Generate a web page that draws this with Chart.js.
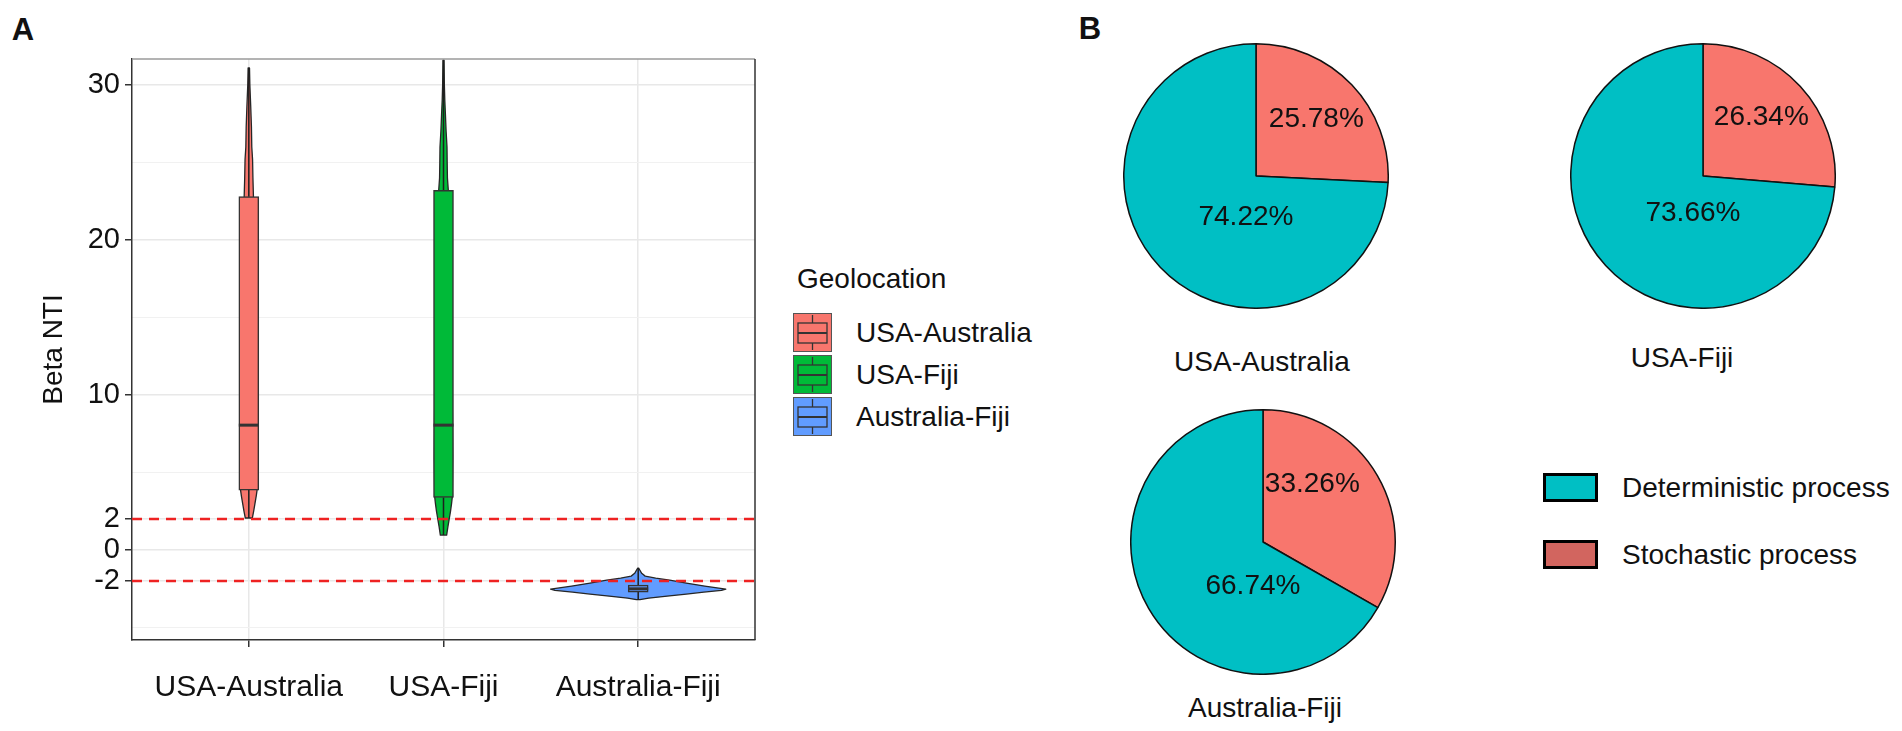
<!DOCTYPE html>
<html>
<head>
<meta charset="utf-8">
<script src="https://cdn.jsdelivr.net/npm/chart.js@4.4.1/dist/chart.umd.min.js"></script>
<style>
  html, body { margin:0; padding:0; background:#fff; width:1902px; height:731px; overflow:hidden;
    font-family:"Liberation Sans", Arial, sans-serif; color:#111; }
  .abs { position:absolute; }
  .tag { font-weight:bold; font-size:31px; line-height:1; }
  .txt { font-size:28px; line-height:1; white-space:nowrap; }
  .ctr { transform:translate(-50%,-50%); }
  .mid { transform:translateY(-50%); }
  .keyB { position:absolute; width:49px; height:23px; border:3px solid #000; }
</style>
</head>
<body>

<!-- DATA -->
<script>
// Panel A: Beta NTI by geolocation pair
const categories   = ['USA-Australia', 'USA-Fiji', 'Australia-Fiji'];
const boxLower     = [3.87, 3.40, -2.71];   // first quartile
const boxUpper     = [22.8, 23.2, -2.26];   // third quartile
const medians      = [8.06, 8.06, -2.50];
const whiskerLow   = [2.07, 0.97, -3.20];
const whiskerHigh  = [31.1, 31.6, -1.16];

// violin outlines: value grid and relative density (1 = widest violin)
const violinValuesAU  = [2.07, 2.5, 3.0, 3.5, 3.9, 6, 10, 15, 20, 22.8, 24, 25.2, 26, 27.3, 28.6, 30, 31.1];
const violinDensityAU = [0.04, 0.055, 0.07, 0.085, 0.095, 0.1, 0.1, 0.09, 0.07, 0.053, 0.047, 0.043, 0.034, 0.03, 0.022, 0.012, 0.008];
const violinValuesUF  = [0.97, 1.5, 2.0, 2.5, 3.0, 3.4, 6, 10, 15, 20, 23.2, 24, 25, 26, 27, 28.1, 29, 30, 31.6];
const violinDensityUF = [0.036, 0.05, 0.065, 0.08, 0.092, 0.1, 0.105, 0.1, 0.09, 0.075, 0.055, 0.045, 0.042, 0.04, 0.03, 0.022, 0.015, 0.01, 0.006];
const violinValuesAF  = [-3.2, -3.1, -2.97, -2.84, -2.71, -2.6, -2.52, -2.32, -2.13, -1.94, -1.81, -1.68, -1.5, -1.3, -1.16];
const violinDensityAF = [0.02, 0.12, 0.33, 0.55, 0.75, 0.95, 1.0, 0.76, 0.55, 0.36, 0.2, 0.08, 0.04, 0.02, 0.005];

const thresholds   = [2, -2];
const yTickValues  = [30, 20, 10, 2, 0, -2];
const yMinorValues = [25, 15, 5, -5];

// Panel B: share of assembly processes
const pieGroups        = ['USA-Australia', 'USA-Fiji', 'Australia-Fiji'];
const processLabels    = ['Stochastic process', 'Deterministic process'];
const stochasticPct    = [25.78, 26.34, 33.26];
const deterministicPct = [74.22, 73.66, 66.74];
const legendOrder      = ['Deterministic process', 'Stochastic process'];
</script>

<div class="abs tag ctr" style="left:23px;top:29px;">A</div>
<div class="abs tag ctr" style="left:1090px;top:28px;">B</div>

<canvas id="cA" class="abs" width="770" height="731" style="left:0;top:0;"></canvas>

<!-- Panel A legend -->
<div id="legA"></div>

<!-- Panel B -->
<canvas id="p0" class="abs" width="266" height="266" style="left:1123px;top:43px;"></canvas>
<canvas id="p1" class="abs" width="266" height="266" style="left:1570px;top:43px;"></canvas>
<canvas id="p2" class="abs" width="266" height="266" style="left:1130px;top:409px;"></canvas>
<div id="pieTitles"></div>
<div id="legB"></div>

<script>
const FONT = '"Liberation Sans", Arial, sans-serif';
const groupColors = ['#F8766D', '#00BA38', '#619CFF'];
const stochColor = '#F8766D', detColor = '#00BFC4';
const X_MIN = 0.4, X_MAX = 3.6, Y_MIN = -5.8, Y_MAX = 31.68;
const VIOLIN_HALF = 0.45;
const violinValues  = [violinValuesAU, violinValuesUF, violinValuesAF];
const violinDensity = [violinDensityAU, violinDensityUF, violinDensityAF];

const violinPlugin = {
  id: 'violins',
  beforeDatasetsDraw(chart) {
    const { ctx, chartArea: a, scales: { x, y } } = chart;
    ctx.save();
    ctx.beginPath(); ctx.rect(a.left, a.top, a.width, a.height); ctx.clip();
    violinValues.forEach((vals, i) => {
      const dens = violinDensity[i], c = i + 1;
      ctx.beginPath();
      vals.forEach((v, k) => {
        const px = x.getPixelForValue(c + dens[k] * VIOLIN_HALF), py = y.getPixelForValue(v);
        k ? ctx.lineTo(px, py) : ctx.moveTo(px, py);
      });
      for (let k = vals.length - 1; k >= 0; k--) {
        ctx.lineTo(x.getPixelForValue(c - dens[k] * VIOLIN_HALF), y.getPixelForValue(vals[k]));
      }
      ctx.closePath();
      ctx.fillStyle = groupColors[i]; ctx.fill();
      ctx.lineWidth = 1.3; ctx.strokeStyle = '#262626'; ctx.lineJoin = 'round'; ctx.stroke();
      const cx = x.getPixelForValue(c);
      ctx.beginPath();
      ctx.moveTo(cx, y.getPixelForValue(boxUpper[i])); ctx.lineTo(cx, y.getPixelForValue(whiskerHigh[i]));
      ctx.moveTo(cx, y.getPixelForValue(boxLower[i])); ctx.lineTo(cx, y.getPixelForValue(whiskerLow[i]));
      ctx.lineWidth = 1.5; ctx.strokeStyle = '#1e1e1e'; ctx.stroke();
    });
    ctx.restore();
  },
  afterDatasetDraw(chart, args) {
    if (args.meta.type !== 'bar') return;
    const { ctx, scales: { y } } = chart;
    ctx.save();
    args.meta.data.forEach((bar, i) => {
      const py = y.getPixelForValue(medians[i]);
      ctx.beginPath();
      ctx.moveTo(bar.x - bar.width / 2, py); ctx.lineTo(bar.x + bar.width / 2, py);
      ctx.lineWidth = 3; ctx.strokeStyle = '#333'; ctx.stroke();
    });
    ctx.restore();
  },
  afterDraw(chart) {
    const { ctx, chartArea: a } = chart;
    ctx.save();
    ctx.lineWidth = 1.5;
    ctx.strokeStyle = '#9a9a9a';
    ctx.beginPath(); ctx.moveTo(a.left, a.top); ctx.lineTo(a.right, a.top); ctx.stroke();
    ctx.strokeStyle = '#333';
    ctx.beginPath(); ctx.moveTo(a.right, a.top); ctx.lineTo(a.right, a.bottom); ctx.stroke();
    ctx.restore();
  }
};

const thresholdSets = thresholds.map(t => ({
  type: 'line', label: 'threshold ' + t,
  data: [{ x: X_MIN, y: t }, { x: X_MAX, y: t }],
  borderColor: '#ee2222', borderWidth: 2.5, borderDash: [10, 7],
  pointRadius: 0, fill: false, order: 0
}));

new Chart(document.getElementById('cA'), {
  type: 'bar',
  data: {
    datasets: [
      ...thresholdSets,
      {
        type: 'bar', label: 'box',
        data: categories.map((c, i) => ({ x: i + 1, y: [boxLower[i], boxUpper[i]] })),
        backgroundColor: groupColors, borderColor: '#333', borderWidth: 1.5,
        borderSkipped: false, barThickness: 20, order: 1
      }
    ]
  },
  options: {
    responsive: false, animation: false, devicePixelRatio: 1,
    layout: { padding: { left: 0, right: 15, top: 59, bottom: 0 } },
    plugins: { legend: { display: false }, tooltip: { enabled: false } },
    scales: {
      x: {
        type: 'linear', min: X_MIN, max: X_MAX, offset: false,
        afterBuildTicks: s => { s.ticks = categories.map((c, i) => ({ value: i + 1 })); },
        ticks: { callback: v => categories[v - 1], font: { size: 30, family: FONT }, color: '#111',
                 padding: 23, maxRotation: 0, autoSkip: false },
        grid: { offset: false, color: '#e8e8e8', lineWidth: 1.5, tickLength: 7, tickColor: '#333', tickWidth: 1.5 },
        border: { color: '#333', width: 1.5 },
        afterFit: s => { s.height = 91; }
      },
      y: {
        type: 'linear', min: Y_MIN, max: Y_MAX, position: 'left',
        afterBuildTicks: s => { s.ticks = yTickValues.map(v => ({ value: v })); },
        ticks: { font: { size: 29, family: FONT }, color: '#111', padding: 5, autoSkip: false },
        grid: { color: '#e8e8e8', lineWidth: 1.5, tickLength: 7, tickColor: '#333', tickWidth: 1.5 },
        border: { color: '#333', width: 1.5 },
        title: { display: true, text: 'Beta NTI', font: { size: 28, family: FONT }, color: '#111',
                 padding: { top: 37, bottom: 0 } },
        afterFit: s => { s.width = 132; }
      },
      yMinor: {
        type: 'linear', min: Y_MIN, max: Y_MAX, position: 'left',
        afterBuildTicks: s => { s.ticks = yMinorValues.map(v => ({ value: v })); },
        ticks: { display: false },
        grid: { color: '#f1f1f1', lineWidth: 1, drawTicks: false },
        border: { display: false },
        afterFit: s => { s.width = 0; }
      }
    }
  },
  plugins: [violinPlugin]
});

// Panel A legend (HTML)
(function () {
  const host = document.getElementById('legA');
  let html = '<div class="abs txt mid" style="left:797px;top:279px;">Geolocation</div>';
  categories.forEach((c, i) => {
    const top = 313 + i * 42;
    html += `<svg class="abs" style="left:793px;top:${top}px" width="39" height="39" viewBox="0 0 39 39">
      <rect x="0.5" y="0.5" width="38" height="38" fill="${groupColors[i]}" stroke="#555" stroke-width="1"/>
      <line x1="19.5" y1="2" x2="19.5" y2="10" stroke="#333" stroke-width="1.3"/>
      <line x1="19.5" y1="30" x2="19.5" y2="37" stroke="#333" stroke-width="1.3"/>
      <rect x="5" y="10" width="29" height="20" fill="${groupColors[i]}" stroke="#333" stroke-width="1.3"/>
      <line x1="5" y1="20" x2="34" y2="20" stroke="#333" stroke-width="2"/>
    </svg>
    <div class="abs txt mid" style="left:856px;top:${top + 20}px;">${c}</div>`;
  });
  host.innerHTML = html;
})();

// Panel B pies
const pieLabelOffsets = [
  [[0.456, -0.426], [-0.076, 0.312]],
  [[0.441, -0.445], [-0.076, 0.285]],
  [[0.373, -0.433], [-0.076, 0.335]]
];
const pieLabelPlugin = {
  id: 'pieLabels',
  afterDatasetsDraw(chart, args, opts) {
    const { ctx } = chart;
    const meta = chart.getDatasetMeta(0);
    const vals = chart.data.datasets[0].data;
    ctx.save();
    ctx.font = '28px ' + FONT; ctx.fillStyle = '#111';
    ctx.textAlign = 'center'; ctx.textBaseline = 'middle';
    meta.data.forEach((arc, k) => {
      const off = opts.offsets[k];
      ctx.fillText(vals[k].toFixed(2) + '%', arc.x + off[0] * arc.outerRadius, arc.y + off[1] * arc.outerRadius);
    });
    ctx.restore();
  }
};
pieGroups.forEach((g, i) => {
  new Chart(document.getElementById('p' + i), {
    type: 'pie',
    data: {
      labels: processLabels,
      datasets: [{
        data: [stochasticPct[i], deterministicPct[i]],
        backgroundColor: [stochColor, detColor],
        borderColor: '#111', borderWidth: 1.5, hoverOffset: 0, offset: 0
      }]
    },
    options: {
      responsive: false, animation: false, devicePixelRatio: 1,
      layout: { padding: 0 },
      plugins: { legend: { display: false }, tooltip: { enabled: false },
                 pieLabels: { offsets: pieLabelOffsets[i] } }
    },
    plugins: [pieLabelPlugin]
  });
});

// pie titles
(function () {
  const pos = [[1262, 362], [1682, 358], [1265, 708]];
  document.getElementById('pieTitles').innerHTML = pieGroups.map((g, i) =>
    `<div class="abs txt ctr" style="left:${pos[i][0]}px;top:${pos[i][1]}px;">${g}</div>`).join('');
})();

// Panel B legend
(function () {
  const fills = { 'Deterministic process': detColor, 'Stochastic process': '#D2655F' };
  document.getElementById('legB').innerHTML = legendOrder.map((l, i) => {
    const top = 473 + i * 67;
    return `<div class="keyB" style="left:1543px;top:${top}px;background:${fills[l]}"></div>
            <div class="abs txt mid" style="left:1622px;top:${top + 15}px;">${l}</div>`;
  }).join('');
})();
</script>
</body>
</html>
